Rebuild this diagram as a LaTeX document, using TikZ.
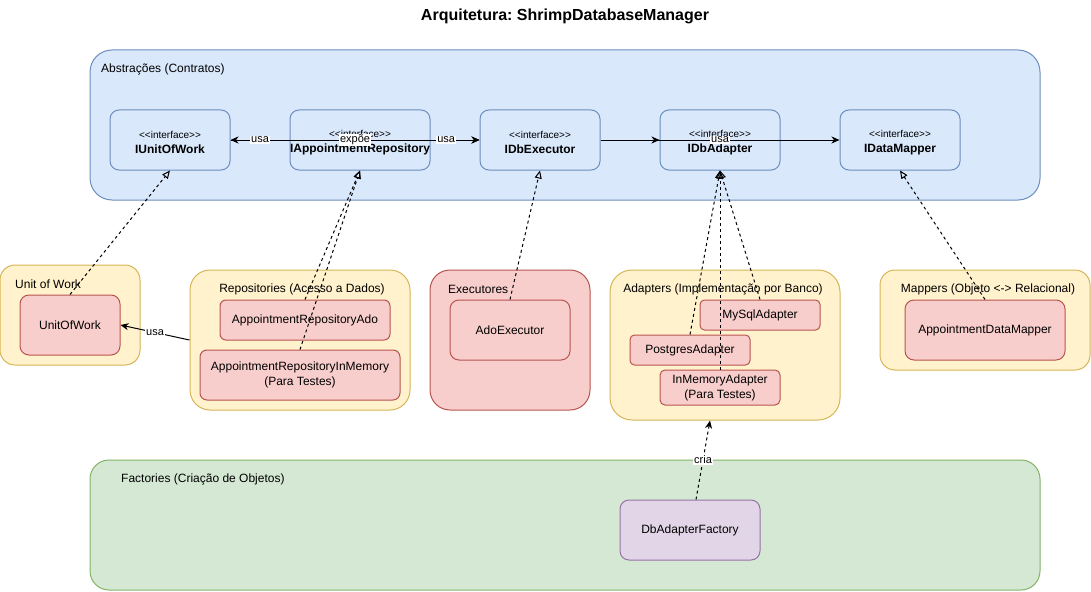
\documentclass[tikz,border=0pt]{standalone}
\usepackage{fontspec}
\setmainfont{Liberation Sans}
\usetikzlibrary{arrows.meta,calc}
\frenchspacing
\definecolor{blueF}{HTML}{DAE8FC}
\definecolor{blueD}{HTML}{6C8EBF}
\definecolor{yelF}{HTML}{FFF2CC}
\definecolor{yelD}{HTML}{D6B656}
\definecolor{redF}{HTML}{F8CECC}
\definecolor{redD}{HTML}{B85450}
\definecolor{greenF}{HTML}{D5E8D4}
\definecolor{greenD}{HTML}{82B366}
\definecolor{purpF}{HTML}{E1D5E7}
\definecolor{purpD}{HTML}{9673A6}
\newcommand{\stereo}{\rule{0pt}{13pt}{\fontsize{10}{12}\selectfont <\kern0pt<interface>\kern0pt>}}
\begin{document}
\begin{tikzpicture}[x=1pt,y=-1pt,
  font=\fontsize{12}{15}\selectfont,
  box/.style={draw, line width=1pt, rectangle, inner sep=0pt, align=center},
  blueC/.style={box, fill=blueF, draw=blueD},
  yelC/.style={box, fill=yelF, draw=yelD},
  redC/.style={box, fill=redF, draw=redD},
  greenC/.style={box, fill=greenF, draw=greenD},
  purpC/.style={box, fill=purpF, draw=purpD},
  iface/.style={blueC, minimum width=120pt, minimum height=60pt, rounded corners=9pt},
  ctitle/.style={inner sep=0pt},
  lbl/.style={fill=white, inner sep=1pt, font=\fontsize{11}{13}\selectfont},
  arr/.style={line width=1pt, -{Stealth[length=8pt,width=7pt,inset=2.5pt]}},
  real/.style={line width=1pt, dash pattern=on 3pt off 3pt, -{Triangle[open,length=8pt,width=7pt]}},
  ]
\useasboundingbox (0,0) rectangle (1091,591);

% title
\node[font=\fontsize{16}{19}\selectfont\bfseries] (title) at (565,16) {Arquitetura: ShrimpDatabaseManager};

% containers
\node[blueC, minimum width=950pt, minimum height=150pt, rounded corners=22pt] (abs) at (565,125) {};
\node[ctitle, anchor=west] (absT) at (101,69) {Abstrações (Contratos)};

\node[yelC, minimum width=140pt, minimum height=100pt, rounded corners=15pt] (uowC) at (70,315) {};
\node[ctitle, anchor=west] (uowT) at (15,284) {Unit of Work};

\node[yelC, minimum width=220pt, minimum height=140pt, rounded corners=20pt] (repos) at (300,340) {};
\node[ctitle] (reposT) at (302,289) {Repositories (Acesso a Dados)};

\node[redC, minimum width=160pt, minimum height=140pt, rounded corners=20pt] (execs) at (510,340) {};
\node[ctitle, anchor=west] (execsT) at (448,289) {Executores};

\node[yelC, minimum width=230pt, minimum height=150pt, rounded corners=22pt] (adapters) at (725,345) {};
\node[ctitle] (adaptersT) at (723,289) {Adapters (Implementação por Banco)};

\node[yelC, minimum width=210pt, minimum height=100pt, rounded corners=15pt] (mappers) at (985,320) {};
\node[ctitle] (mappersT) at (988,289) {Mappers (Objeto <-> Relacional)};

\node[greenC, minimum width=950pt, minimum height=130pt, rounded corners=19pt] (facts) at (565,525) {};
\node[ctitle, anchor=west] (factsT) at (121,479) {Factories (Criação de Objetos)};

% interfaces
\node[iface] (IUoW) at (170,140) {\stereo\\\textbf{IUnitOfWork}};
\node[iface, minimum width=140pt] (IAR) at (360,140) {\stereo\\\textbf{IAppointmentRepository}};
\node[iface] (IDE) at (540,140) {\stereo\\\textbf{IDbExecutor}};
\node[iface] (IDA) at (720,140) {\stereo\\\textbf{IDbAdapter}};
\node[iface] (IDM) at (900,140) {\stereo\\\textbf{IDataMapper}};

% implementations
\node[redC, minimum width=100pt, minimum height=60pt, rounded corners=9pt] (UoW) at (70,325) {UnitOfWork};
\node[redC, minimum width=170pt, minimum height=40pt, rounded corners=6pt] (ARAdo) at (305,320) {AppointmentRepositoryAdo};
\node[redC, minimum width=200pt, minimum height=50pt, rounded corners=7pt] (ARMem) at (300,375) {AppointmentRepositoryInMemory\\(Para Testes)};
\node[redC, minimum width=120pt, minimum height=60pt, rounded corners=9pt] (Ado) at (510,330) {AdoExecutor};
\node[redC, minimum width=120pt, minimum height=30pt, rounded corners=4.5pt] (MySql) at (760,315) {MySqlAdapter};
\node[redC, minimum width=120pt, minimum height=30pt, rounded corners=4.5pt] (Pg) at (690,350) {PostgresAdapter};
\node[redC, minimum width=120pt, minimum height=35pt, rounded corners=5pt] (MemA) at (720,387.5) {InMemoryAdapter\\(Para Testes)};
\node[redC, minimum width=160pt, minimum height=60pt, rounded corners=9pt] (ADM) at (985,330) {AppointmentDataMapper};
\node[purpC, minimum width=140pt, minimum height=60pt, rounded corners=9pt] (DAF) at (690,530) {DbAdapterFactory};

% edges among interfaces
\draw[arr] (IUoW.east) -- node[lbl]{expõe} (IDE.west);
\draw[arr] (IAR.west) -- node[lbl]{usa} (IUoW.east);
\draw[arr] (IAR.east) -- node[lbl, pos=0.32]{usa} (IDE.west);
\draw[arr] (IDE.east) -- (IDA.west);
\draw[arr] (IDE.east) -- node[lbl]{usa} (IDM.west);

% realizations
\draw[real] (UoW.north) -- (IUoW.south);
\draw[real] (ARAdo.north) -- (IAR.south);
\draw[real] (ARMem.north) -- (IAR.south);
\draw[real] (Ado.north) -- (IDE.south);
\draw[real] (MySql.north) -- (IDA.south);
\draw[real] (Pg.north) -- (IDA.south);
\draw[real] (MemA.north) -- (IDA.south);
\draw[real] (ADM.north) -- (IDM.south);

% other uses
\draw[arr] (repos.west) -- node[lbl]{usa} (UoW.east);
\draw[arr, dash pattern=on 3pt off 3pt] ($(DAF.north)+(6,0)$) -- node[lbl]{cria} ($(adapters.south)+(-15,0)$);
\end{tikzpicture}
\end{document}
